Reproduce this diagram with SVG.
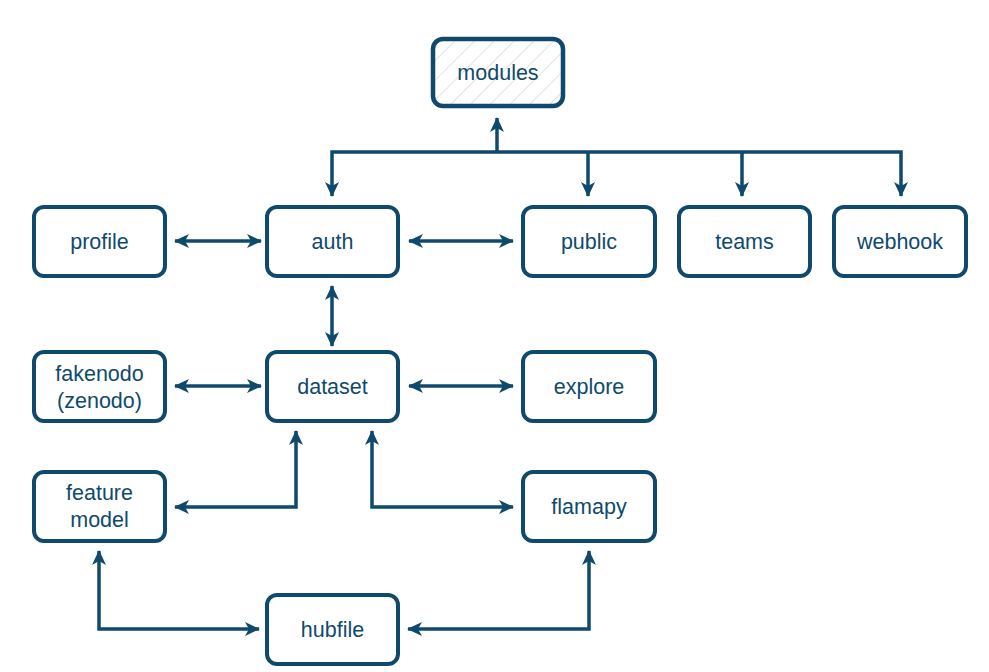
<svg xmlns="http://www.w3.org/2000/svg" width="989" height="672" viewBox="0 0 989 672">
<style>
.box{fill:#ffffff;stroke:#0f4a6c;stroke-width:4}
.lbl{font-family:"Liberation Sans",Arial,sans-serif;font-size:21.5px;fill:#0f4a6c;text-anchor:middle;dominant-baseline:central}
.c{fill:none;stroke:#0f4a6c;stroke-width:3.5;stroke-linejoin:miter}
</style>
<defs>
<pattern id="hatch" patternUnits="userSpaceOnUse" width="14" height="14" patternTransform="rotate(45)">
<rect width="14" height="14" fill="#ffffff"/>
<line x1="0" y1="0" x2="0" y2="14" stroke="#d8d8d8" stroke-width="1.5"/>
</pattern>
<marker id="ah" viewBox="0 0 15 14" refX="14" refY="7" markerWidth="15" markerHeight="14" markerUnits="userSpaceOnUse" orient="auto-start-reverse">
<path d="M0,0 L15,7 L0,14 L4,7 Z" fill="#0f4a6c"/>
</marker>
</defs>
<g id="connectors">
<path class="c" d="M497,152 V118" marker-end="url(#ah)"/>
<path class="c" d="M332,196 V152 H901 V196" marker-start="url(#ah)" marker-end="url(#ah)"/>
<path class="c" d="M588,152 V196" marker-end="url(#ah)"/>
<path class="c" d="M742,152 V196" marker-end="url(#ah)"/>
<path class="c" d="M175,241 H261" marker-start="url(#ah)" marker-end="url(#ah)"/>
<path class="c" d="M409,241 H513" marker-start="url(#ah)" marker-end="url(#ah)"/>
<path class="c" d="M332,286 V346" marker-start="url(#ah)" marker-end="url(#ah)"/>
<path class="c" d="M175,386 H261" marker-start="url(#ah)" marker-end="url(#ah)"/>
<path class="c" d="M409,386 H513" marker-start="url(#ah)" marker-end="url(#ah)"/>
<path class="c" d="M296,431 V507 H175" marker-start="url(#ah)" marker-end="url(#ah)"/>
<path class="c" d="M372,431 V507 H513" marker-start="url(#ah)" marker-end="url(#ah)"/>
<path class="c" d="M99,551 V629 H259" marker-start="url(#ah)" marker-end="url(#ah)"/>
<path class="c" d="M589,551 V629 H408" marker-start="url(#ah)" marker-end="url(#ah)"/>
</g>
<g id="modules">
<rect x="433" y="39" width="130" height="67" rx="10" fill="url(#hatch)" stroke="#0f4a6c" stroke-width="4.5"/>
<text class="lbl" x="498" y="73">modules</text>
</g>
<g id="profile"><rect class="box" x="34" y="207" width="131" height="69" rx="10"/><text class="lbl" x="99.5" y="242">profile</text></g>
<g id="auth"><rect class="box" x="267" y="207" width="131" height="69" rx="10"/><text class="lbl" x="332.5" y="242">auth</text></g>
<g id="public"><rect class="box" x="523" y="207" width="132" height="69" rx="10"/><text class="lbl" x="589" y="242">public</text></g>
<g id="teams"><rect class="box" x="679" y="207" width="131" height="69" rx="10"/><text class="lbl" x="744.5" y="242">teams</text></g>
<g id="webhook"><rect class="box" x="834" y="207" width="132" height="69" rx="10"/><text class="lbl" x="900" y="242">webhook</text></g>
<g id="fakenodo"><rect class="box" x="34" y="352" width="131" height="69" rx="10"/><text class="lbl" x="99.5" y="374">fakenodo</text><text class="lbl" x="99.5" y="401">(zenodo)</text></g>
<g id="dataset"><rect class="box" x="267" y="352" width="131" height="69" rx="10"/><text class="lbl" x="332.5" y="387">dataset</text></g>
<g id="explore"><rect class="box" x="523" y="352" width="132" height="69" rx="10"/><text class="lbl" x="589" y="387">explore</text></g>
<g id="feature-model"><rect class="box" x="34" y="472" width="131" height="69" rx="10"/><text class="lbl" x="99.5" y="493">feature</text><text class="lbl" x="99.5" y="520">model</text></g>
<g id="flamapy"><rect class="box" x="523" y="472" width="132" height="69" rx="10"/><text class="lbl" x="589" y="507">flamapy</text></g>
<g id="hubfile"><rect class="box" x="267" y="595" width="131" height="69" rx="10"/><text class="lbl" x="332.5" y="630">hubfile</text></g>
</svg>
